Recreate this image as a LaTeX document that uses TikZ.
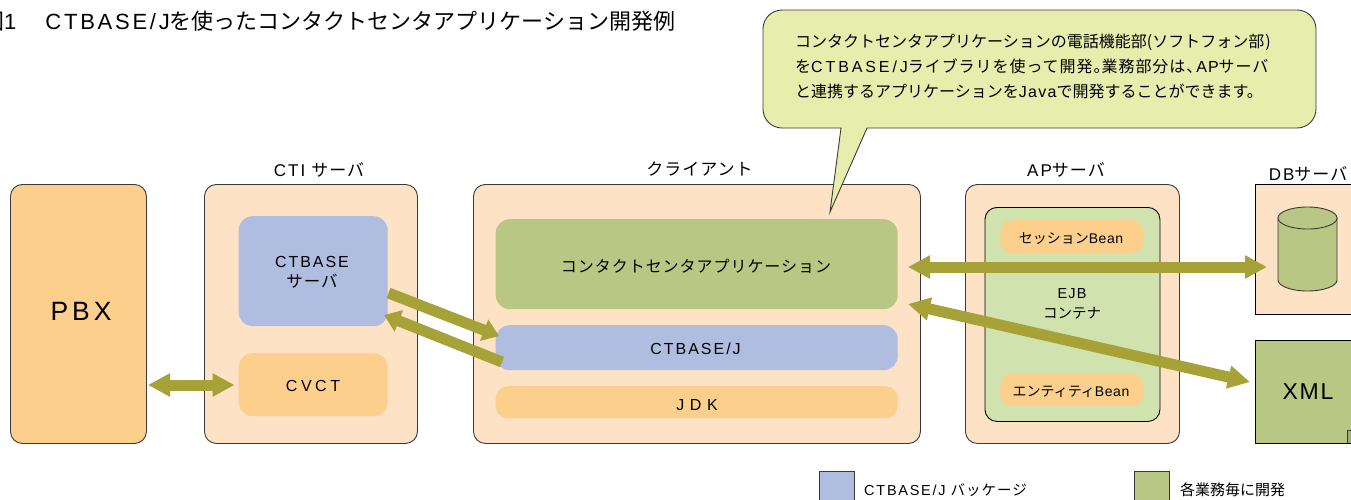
\documentclass[tikz,border=0pt]{standalone}
\usepackage{fontspec}
\setmainfont{Noto Sans CJK JP}
\newfontfamily\wide[LetterSpace=6]{Noto Sans CJK JP}
\newfontfamily\lat{Liberation Sans}
\newcommand\lsp[2]{{\lat\addfontfeature{LetterSpace=#1}#2}}
\usetikzlibrary{arrows.meta}
\definecolor{peach}{HTML}{FEE2C5}
\definecolor{orangeb}{HTML}{FCCF8C}
\definecolor{blueb}{HTML}{AEBDE0}
\definecolor{greenb}{HTML}{B9C785}
\definecolor{lightg}{HTML}{D0E2AE}
\definecolor{callout}{HTML}{E7EDAC}
\definecolor{olive}{HTML}{A6A237}
\definecolor{edge}{HTML}{3A3A3A}
\tikzset{
 x=1pt,y=-1pt,
 outerbox/.style={draw=edge,line width=0.9pt,rounded corners=12pt,anchor=north west,inner sep=0pt},
 flat/.style={rounded corners=14pt,anchor=north west,inner sep=0pt},
 lbl/.style={inner sep=0pt,anchor=base,text=black},
 lbll/.style={inner sep=0pt,anchor=base west,text=black},
 link/.style={draw=olive,line width=11pt,{Triangle[length=22pt,width=22pt]}-{Triangle[length=22pt,width=22pt]}},
 link1/.style={draw=olive,line width=11pt,-{Triangle[length=16pt,width=22pt]}},
 fs/.style={font=\fontsize{#1}{#1}\selectfont},
}
\begin{document}
\begin{tikzpicture}
\useasboundingbox (0,0) rectangle (1351,499);
\fill[white] (0,0) rectangle (1351,499);
\clip (0,0) rectangle (1351,499);

\node[lbll,fs=22] (title) at (-18,29) {図\lsp{0}{1}\hspace{29pt}\lsp{12.5}{CTBASE/J}を使ったコンタクトセンタアプリケーション開発例};

% outer boxes
\node[outerbox,fill=orangeb,minimum width=136pt,minimum height=259pt] (pbx) at (10,184) {};
\node[lbl,fs=26.5] (pbxt) at (81,320.7) {\lsp{15}{PBX}};

\node[outerbox,fill=peach,minimum width=213pt,minimum height=259pt] (cti) at (204,184) {};
\node[lbl,fs=17] (ctit) at (319,176) {\lsp{12}{CTI}\hspace{6pt}{\wide サーバ}};
\node[flat,fill=blueb,minimum width=149pt,minimum height=110pt] (srv) at (238.5,216) {};
\node[lbl,fs=16] (srvt1) at (312,267.7) {\lsp{12}{CTBASE}};
\node[lbl,fs=16.5] (srvt2) at (312,287.5) {\wide サーバ};
\node[flat,fill=orangeb,minimum width=149pt,minimum height=63pt] (cvct) at (238.5,353) {};
\node[lbl,fs=16] (cvctt) at (313,391) {\lsp{22}{CVCT}};

\node[outerbox,fill=peach,minimum width=447pt,minimum height=259pt] (cl) at (473,184) {};
\node[lbl,fs=17] (clt) at (699.5,175.5) {\wide クライアント};
\node[flat,fill=greenb,minimum width=402pt,minimum height=90pt] (app) at (495.5,219) {};
\node[lbl,fs=16] (appt) at (696,272.5) {\wide コンタクトセンタアプリケーション};
\node[flat,fill=blueb,minimum width=402pt,minimum height=45pt] (lib) at (495.5,325) {};
\node[lbl,fs=16] (libt) at (695.5,354.5) {\lsp{12.5}{CTBASE/J}};
\node[flat,rounded corners=12pt,fill=orangeb,minimum width=402pt,minimum height=32pt] (jdk) at (495.5,386) {};
\node[lbl,fs=16] (jdkt) at (697,410) {\lsp{35}{JDK}};

\node[outerbox,fill=peach,minimum width=214pt,minimum height=259pt] (ap) at (965,184) {};
\node[lbl,fs=17] (apt) at (1066,176) {\lsp{12}{AP}{\wide サーバ}};
\node[outerbox,fill=lightg,draw=black,minimum width=175pt,minimum height=214pt] (ejb) at (984.5,207) {};
\node[flat,rounded corners=12pt,fill=orangeb,minimum width=143pt,minimum height=33pt] (sb) at (1000,220) {};
\node[lbl,fs=14] (sbt) at (1071,243) {セッション\lsp{4}{Bean}};
\node[lbl,fs=14.5] (ejbt1) at (1072,298) {\lsp{8}{EJB}};
\node[lbl,fs=14.5] (ejbt2) at (1072,318) {コンテナ};
\node[flat,rounded corners=12pt,fill=orangeb,minimum width=143pt,minimum height=33pt] (eb) at (1000,373) {};
\node[lbl,fs=14] (ebt) at (1071,396) {エンティティ\lsp{4}{Bean}};

\node[draw=black,line width=0.9pt,fill=peach,minimum width=110pt,minimum height=130pt,anchor=north west,inner sep=0pt] (db) at (1255,184) {};
\node[lbl,fs=17] (dbt) at (1308,180.5) {\lsp{12}{DB}{\wide サーバ}};
% cylinder
\draw[draw=edge,line width=0.9pt,fill=greenb] (1278,218) -- (1278,280)
 arc[start angle=180,end angle=360,x radius=29.5,y radius=-11] -- (1337,218) -- cycle;
\draw[draw=edge,line width=0.9pt,fill=greenb] (1307.5,218) ellipse[x radius=29.5,y radius=11];
\coordinate (dbl) at (1267,267);

\node[draw=black,line width=0.9pt,fill=greenb,minimum width=110pt,minimum height=103pt,anchor=north west,inner sep=0pt] (xml) at (1255,340) {};
\node[lbl,fs=23] (xmlt) at (1308,399) {\lsp{8}{XML}};
\draw[edge,line width=0.9pt,fill=greenb!60!gray] (1347,443) -- (1347,430) -- (1352,430) -- (1352,443);

% callout
\draw[fill=callout,draw=edge,line width=0.9pt] (782,10) -- (1297,10) to[out=0,in=90] (1316,29) -- (1316,109) to[out=-90,in=0] (1297,128)
 -- (867,128) -- (830,212) -- (841,128) -- (782,128) to[out=180,in=-90] (763,109) -- (763,29) to[out=90,in=180] (782,10) -- cycle;
\node[lbll,fs=16] (c1) at (795,47.5) {コンタクトセンタアプリケーションの電話機能部(ソフトフォン部\hspace{1pt})};
\node[lbll,fs=16] (c2) at (795,72.5) {を\lsp{18}{CTBASE/J}{\wide ライブラリを使って開発。}\hspace{-8pt}{\wide 業務部分は、}\hspace{-6pt}\lsp{6}{AP}{\wide サーバ}};
\node[lbll,fs=16] (c3) at (795,97.5) {と連携するアプリケーションを\lsp{8}{Java}で開発することができます。};

% connectors
\coordinate (a1) at (148,385); \coordinate (a2) at (234.5,385);
\draw[link] (a1) -- (a2);
\coordinate (b1) at (388.5,293); \coordinate (b2) at (499,336);
\draw[link1] (b1) -- (b2);
\coordinate (c1a) at (502,362); \coordinate (c2a) at (384,315);
\draw[link1] (c1a) -- (c2a);
\coordinate (d1) at (908,267);
\draw[link] (d1) -- (dbl);
\coordinate (e1) at (908,304); \coordinate (e2) at (1250,382);
\draw[link] (e1) -- (e2);

% legend
\node[draw=edge,line width=0.9pt,fill=blueb,minimum width=35pt,minimum height=40pt,anchor=north west,inner sep=0pt] (lg1) at (819,471) {};
\node[lbll,fs=14.5] (lg1t) at (864,495.5) {\lsp{12}{CTBASE/J}\hspace{5pt}{\addfontfeature{LetterSpace=7}バッケージ}};
\node[draw=edge,line width=0.9pt,fill=greenb,minimum width=35pt,minimum height=40pt,anchor=north west,inner sep=0pt] (lg2) at (1134,471) {};
\node[lbll,fs=15] (lg2t) at (1180,495.5) {各業務毎に開発};
\end{tikzpicture}
\end{document}
